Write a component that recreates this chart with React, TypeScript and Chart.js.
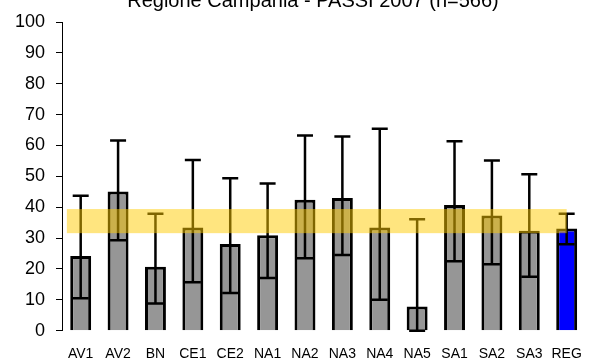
import React, { useEffect, useRef } from 'react';
import { Chart, registerables } from 'chart.js';

Chart.register(...registerables);

const titleText = 'Regione Campania - PASSI 2007 (n=566)';
const categories = ['AV1', 'AV2', 'BN', 'CE1', 'CE2', 'NA1', 'NA2', 'NA3', 'NA4', 'NA5', 'SA1', 'SA2', 'SA3', 'REG'];
const values = [24.2, 45.1, 20.7, 33.4, 28.1, 30.9, 42.4, 43.0, 33.4, 7.8, 40.7, 37.3, 32.4, 33.1];
const lowerCI = [10.5, 29.3, 8.8, 15.7, 12.2, 17.1, 23.5, 24.5, 10.0, 0, 22.5, 21.5, 17.5, 28.0];
const upperCI = [43.7, 61.6, 37.9, 55.3, 49.4, 47.7, 63.2, 62.9, 65.4, 36.1, 61.4, 55.1, 50.7, 37.9];
const bandRange = [31.6, 39.4];
const bandIndexSpan = [-0.37, 13];
const yTicks = [0, 10, 20, 30, 40, 50, 60, 70, 80, 90, 100];

const FONT = '"Liberation Sans", Arial, sans-serif';

export default function App() {
  const ref = useRef<HTMLCanvasElement>(null);

  useEffect(() => {
    if (!ref.current) return;

    const errorBars = {
      id: 'errorBars',
      afterDatasetsDraw(chart: any) {
        const ctx = chart.ctx;
        const meta = chart.getDatasetMeta(0);
        const y = chart.scales.y;
        ctx.save();
        ctx.strokeStyle = '#000';
        ctx.lineWidth = 2.5;
        ctx.lineCap = 'butt';
        meta.data.forEach((bar: any, i: number) => {
          const x = bar.x;
          const yt = y.getPixelForValue(upperCI[i]);
          const yb = y.getPixelForValue(lowerCI[i]);
          ctx.beginPath();
          ctx.moveTo(x, yt);
          ctx.lineTo(x, yb);
          ctx.moveTo(x - 8, yt);
          ctx.lineTo(x + 8, yt);
          ctx.moveTo(x - 8, yb);
          ctx.lineTo(x + 8, yb);
          ctx.stroke();
        });
        ctx.restore();
      },
    };

    const band = {
      id: 'band',
      afterDatasetsDraw(chart: any) {
        const ctx = chart.ctx;
        const x = chart.scales.x;
        const y = chart.scales.y;
        const x0 = x.getPixelForValue(bandIndexSpan[0]);
        const x1 = x.getPixelForValue(bandIndexSpan[1]);
        const y0 = y.getPixelForValue(bandRange[1]);
        const y1 = y.getPixelForValue(bandRange[0]);
        ctx.save();
        ctx.fillStyle = 'rgba(255, 204, 0, 0.5)';
        ctx.fillRect(x0, y0, x1 - x0, y1 - y0);
        ctx.restore();
      },
    };

    const title = {
      id: 'customTitle',
      afterDraw(chart: any) {
        const ctx = chart.ctx;
        ctx.save();
        ctx.fillStyle = '#000';
        ctx.font = `20px ${FONT}`;
        ctx.textAlign = 'center';
        ctx.textBaseline = 'alphabetic';
        ctx.fillText(titleText, 313, 7);
        ctx.restore();
      },
    };

    const chart = new Chart(ref.current, {
      type: 'bar',
      data: {
        labels: categories,
        datasets: [
          {
            data: values,
            backgroundColor: categories.map((c) => (c === 'REG' ? '#0000FF' : '#969696')),
            borderColor: '#000',
            borderWidth: 3,
            barPercentage: 0.56,
            categoryPercentage: 1,
          },
        ],
      },
      options: {
        responsive: false,
        animation: false,
        layout: { padding: { top: 22, right: 4.5, left: 0, bottom: 0 } },
        plugins: {
          legend: { display: false },
          tooltip: { enabled: false },
          title: { display: false },
        },
        scales: {
          x: {
            grid: { display: true, drawOnChartArea: false, drawTicks: false },
            border: { display: false },
            ticks: {
              color: '#000',
              font: { family: FONT, size: 14 },
              padding: 15,
              maxRotation: 0,
              autoSkip: false,
            },
            afterFit(scale: any) {
              scale.height = 27.3;
            },
          },
          y: {
            min: 0,
            max: 100,
            afterBuildTicks(scale: any) {
              scale.ticks = yTicks.map((v) => ({ value: v }));
            },
            grid: { drawOnChartArea: false, drawTicks: true, tickLength: 6, color: '#000', lineWidth: 1 },
            border: { display: true, color: '#000', width: 1 },
            ticks: {
              color: '#000',
              font: { family: FONT, size: 18 },
              padding: 11,
            },
            afterFit(scale: any) {
              scale.width = 62;
            },
          },
        },
      },
      plugins: [errorBars, band, title],
    });

    return () => chart.destroy();
  }, []);

  return (
    <div style={{ position: 'absolute', left: 0, top: 0, width: 597, height: 358, background: '#fff' }}>
      <canvas ref={ref} width={597} height={358} />
    </div>
  );
}
